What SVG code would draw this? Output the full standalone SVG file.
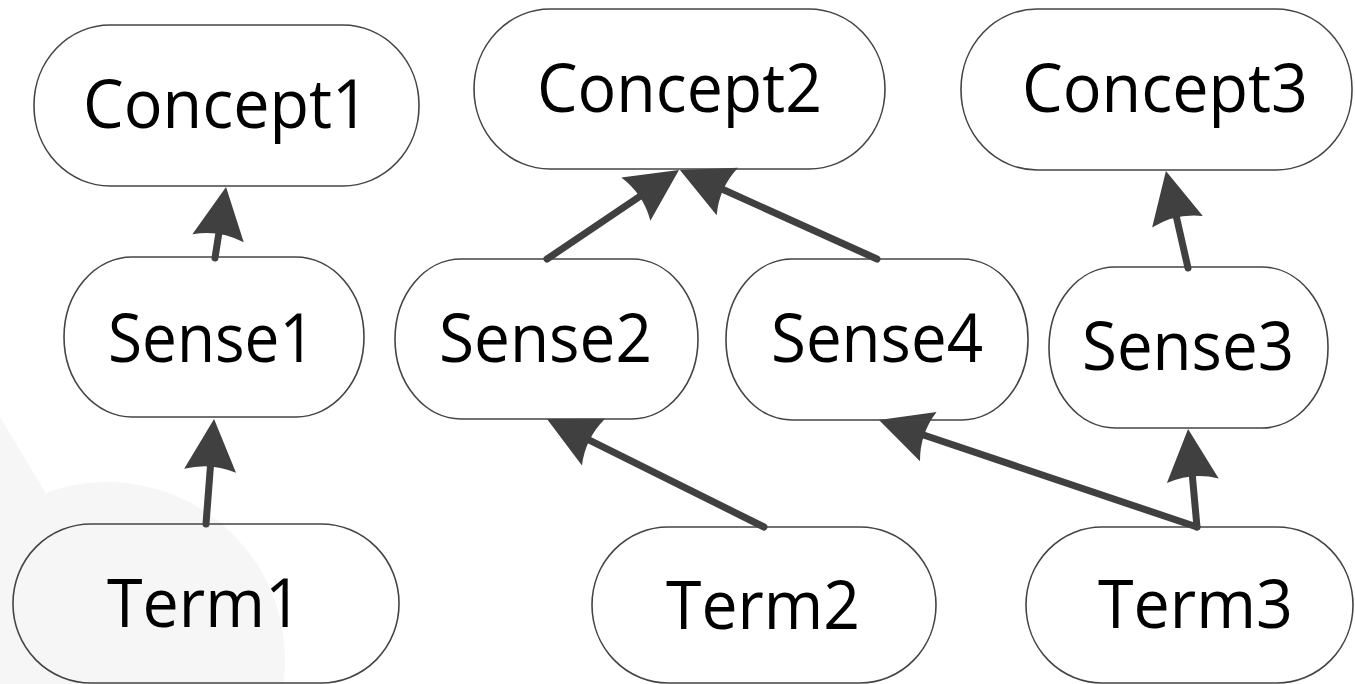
<svg xmlns="http://www.w3.org/2000/svg" width="1355" height="684" viewBox="0 0 1355 684">
<style>
.node rect{fill:none;stroke:#444;stroke-width:1.6}
.node text{font-family:"Open Sans","Noto Sans","Liberation Sans",sans-serif;font-size:67px;fill:#000;text-anchor:middle}
.edge{fill:none;stroke:#404040;stroke-width:7;stroke-linecap:round;marker-end:url(#arrow)}
</style>
<defs>
<marker id="arrow" markerUnits="userSpaceOnUse" viewBox="-14 -28 56 56" refX="0" refY="0" markerWidth="56" markerHeight="56" orient="auto">
<path d="M40,0 L-12,-26 Q-3,0 -12,26 Z" fill="#404040"/>
</marker>
</defs>
<rect width="1355" height="684" fill="#fff"/>
<g id="watermark" fill="#f6f6f6">
<circle cx="107" cy="660" r="178"/>
<polygon points="0,417 48,497 107,660 0,684"/>
</g>
<g id="connectors">
<line class="edge" x1="206" y1="524" x2="211" y2="458.9"/>
<line class="edge" x1="215" y1="258" x2="219.9" y2="226.5"/>
<line class="edge" x1="547" y1="259" x2="645.8" y2="192.4"/>
<line class="edge" x1="877" y1="259" x2="716.4" y2="186.5"/>
<line class="edge" x1="1188" y1="268" x2="1174.8" y2="210"/>
<line class="edge" x1="764" y1="527" x2="582.8" y2="436.8"/>
<line class="edge" x1="1197" y1="527" x2="916.9" y2="432.8"/>
<line class="edge" x1="1197" y1="527" x2="1191.7" y2="468.8"/>
</g>
<g id="concept1" class="node"><rect x="34" y="25" width="385" height="161" rx="76" ry="80"/><text x="226" y="128" textLength="286" lengthAdjust="spacingAndGlyphs">Concept1</text></g>
<g id="concept2" class="node"><rect x="474" y="9" width="411" height="160" rx="76" ry="80"/><text x="679.5" y="112" textLength="285" lengthAdjust="spacingAndGlyphs">Concept2</text></g>
<g id="concept3" class="node"><rect x="961" y="9" width="391" height="161" rx="76" ry="80"/><text x="1165" y="112" textLength="286" lengthAdjust="spacingAndGlyphs">Concept3</text></g>
<g id="sense1" class="node"><rect x="64" y="257" width="300" height="160" rx="68" ry="80"/><text x="211.5" y="362" textLength="207" lengthAdjust="spacingAndGlyphs">Sense1</text></g>
<g id="sense2" class="node"><rect x="395" y="259" width="303" height="160" rx="66" ry="80"/><text x="545.5" y="362" textLength="213" lengthAdjust="spacingAndGlyphs">Sense2</text></g>
<g id="sense4" class="node"><rect x="726" y="259" width="302" height="161" rx="66" ry="80"/><text x="877" y="362" textLength="212" lengthAdjust="spacingAndGlyphs">Sense4</text></g>
<g id="sense3" class="node"><rect x="1049" y="267" width="279" height="161" rx="66" ry="80"/><text x="1188" y="370" textLength="212" lengthAdjust="spacingAndGlyphs">Sense3</text></g>
<g id="term1" class="node"><rect x="13" y="524" width="386" height="159" rx="78" ry="79"/><text x="204.5" y="627" textLength="195" lengthAdjust="spacingAndGlyphs">Term1</text></g>
<g id="term2" class="node"><rect x="592" y="527" width="344" height="156" rx="76" ry="78"/><text x="763" y="629" textLength="194" lengthAdjust="spacingAndGlyphs">Term2</text></g>
<g id="term3" class="node"><rect x="1026" y="527" width="327" height="156" rx="76" ry="78"/><text x="1195.5" y="628" textLength="195" lengthAdjust="spacingAndGlyphs">Term3</text></g>
</svg>
